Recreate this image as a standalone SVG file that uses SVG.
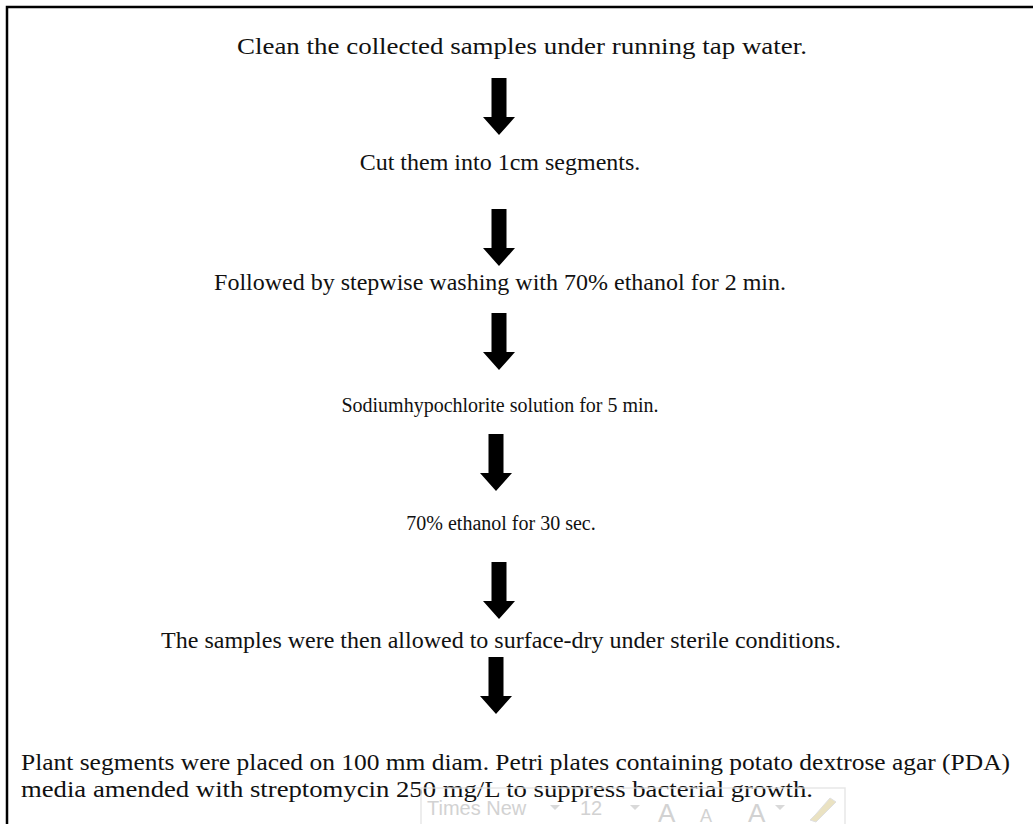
<svg xmlns="http://www.w3.org/2000/svg" width="1033" height="824" viewBox="0 0 1033 824">
<style>
.t{font-family:"Liberation Serif","Times New Roman",serif;font-size:24px;fill:#111}
.s{font-size:20px}
.c{text-anchor:middle}
.a{fill:#000}
.tb{font-family:"Liberation Sans",Arial,sans-serif;fill:#c8c8c8}
</style>
<defs>
<path id="arr" d="M-7.5,0 H7.5 V39 H16 L0,57 L-16,39 H-7.5 Z"/>
</defs>
<rect width="1033" height="824" fill="#fff"/>
<path d="M7,824 V7 H1033" fill="none" stroke="#000" stroke-width="2.5"/>
<g id="step1"><text class="t c" x="522" y="54" textLength="570" lengthAdjust="spacingAndGlyphs">Clean the collected samples under running tap water.</text></g>
<g id="step2"><text class="t c" x="500" y="170">Cut them into 1cm segments.</text></g>
<g id="step3"><text class="t c" x="500" y="290">Followed by stepwise washing with 70% ethanol for 2 min.</text></g>
<g id="step4"><text class="t s c" x="500" y="412">Sodiumhypochlorite solution for 5 min.</text></g>
<g id="step5"><text class="t s c" x="501" y="530">70% ethanol for 30 sec.</text></g>
<g id="step6"><text class="t c" x="501" y="648">The samples were then allowed to surface-dry under sterile conditions.</text></g>
<g id="step7">
<text class="t" x="21" y="770" textLength="989" lengthAdjust="spacingAndGlyphs">Plant segments were placed on 100 mm diam. Petri plates containing potato dextrose agar (PDA)</text>
<text class="t" x="21" y="797" textLength="792" lengthAdjust="spacingAndGlyphs">media amended with streptomycin 250 mg/L to suppress bacterial growth.</text>
</g>
<g id="connectors" class="a">
<use href="#arr" x="499" y="78"/>
<use href="#arr" x="499" y="209"/>
<use href="#arr" x="499" y="313"/>
<use href="#arr" x="496" y="434"/>
<use href="#arr" x="499" y="562"/>
<use href="#arr" x="496" y="657"/>
</g>
<g id="toolbar" opacity="0.8">
<rect x="421" y="788" width="424" height="40" fill="none" stroke="#e2e2e2" stroke-width="1.5"/>
<text class="tb" x="427" y="815" font-size="20">Times New</text>
<path d="M550,805 l5,5 l5,-5 z" fill="#d0d0d0"/>
<text class="tb" x="580" y="815" font-size="20">12</text>
<path d="M630,805 l5,5 l5,-5 z" fill="#d0d0d0"/>
<text class="tb" x="658" y="822" font-size="26">A</text>
<text class="tb" x="700" y="822" font-size="18">A</text>
<text class="tb" x="748" y="822" font-size="26">A</text>
<path d="M775,805 l5,5 l5,-5 z" fill="#d0d0d0"/>
<path d="M830,798 l-14,16 l-6,6 l6,2 l6,-6 l14,-14 z" fill="#e6dcb4" stroke="#d8d8d8"/>
</g>
</svg>
